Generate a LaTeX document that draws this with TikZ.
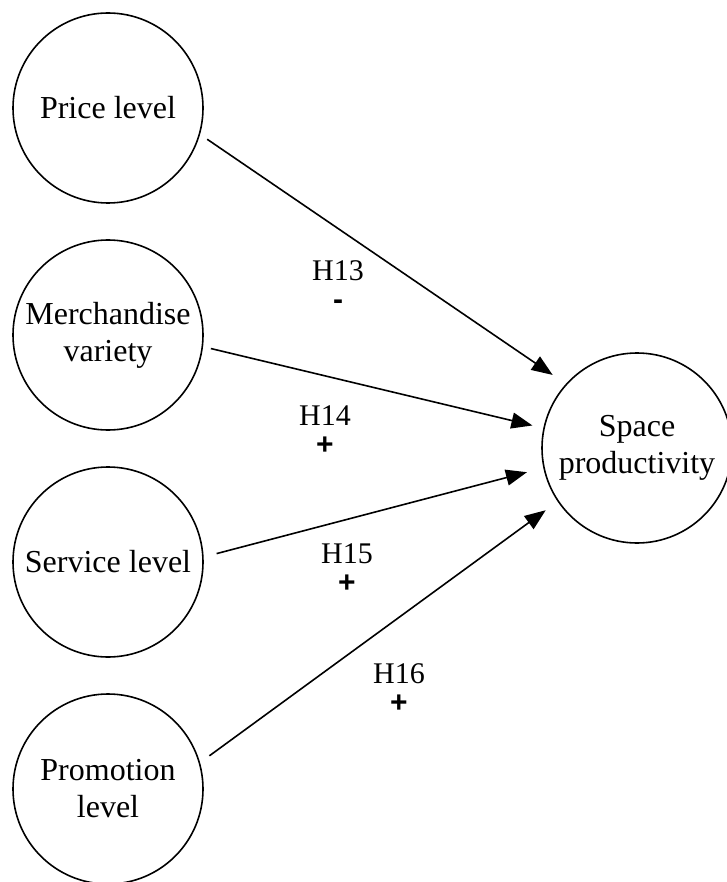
\documentclass[tikz,border=0pt]{standalone}
\usepackage{fontspec}
\setmainfont{Liberation Serif}
\newfontfamily\signfont{Liberation Sans}
\usetikzlibrary{arrows.meta}
\newcommand{\hsign}[1]{{\signfont\bfseries\fontsize{30}{29}\selectfont #1}}
\begin{document}
\begin{tikzpicture}[x=1pt,y=-1pt,
  construct/.style={draw, circle, line width=1.6pt, minimum size=190pt,
    inner sep=0pt, align=center, font=\fontsize{32}{37}\selectfont},
  path/.style={line width=1.6pt, -{Triangle[length=21pt,width=16pt]}},
  hyp/.style={anchor=north, inner sep=0pt, align=center,
    font=\fontsize{30}{29}\selectfont}]
\useasboundingbox (0,0) rectangle (726,882);

% latent constructs
\node[construct] (price) at (108,108) {Price level};
\node[construct] (merch) at (108,335) {Merchandise\\variety};
\node[construct] (serv)  at (108,562) {Service level};
\node[construct] (promo) at (108,789) {Promotion\\level};
\node[construct] (space) at (637,448) {Space\\productivity};

% hypothesised paths
\draw[path, shorten <=8.6pt, shorten >=15.9pt] (price.-16.7) -- (space.138.6);
\draw[path, shorten <=8pt,   shorten >=11.2pt] (merch.-7.2)  -- (space.168.9);
\draw[path, shorten <=13.4pt,shorten >=16.9pt] (serv.3.4)    -- (space.192.6);
\draw[path, shorten <=11.5pt,shorten >=14.7pt] (promo.16.2)  -- (space.214.6);

% hypothesis labels with expected signs
\node[hyp] (h13) at (338,260) {H13\\\hsign{-}};
\node[hyp] (h14) at (325,405) {H14\\\hsign{+}};
\node[hyp] (h15) at (347,543) {H15\\\hsign{+}};
\node[hyp] (h16) at (399,663) {H16\\\hsign{+}};
\end{tikzpicture}
\end{document}
